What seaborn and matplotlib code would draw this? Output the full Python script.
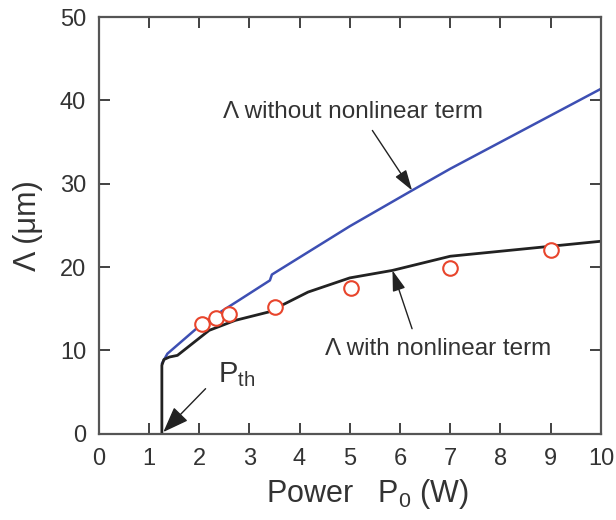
import matplotlib
matplotlib.use("Agg")
import matplotlib.pyplot as plt
import seaborn as sns
import pandas as pd

# Data
black_P = [1.26, 1.26, 1.30, 1.41, 1.57, 2.2, 2.72, 3.38, 4.17, 5.0, 5.85, 7.0, 8.0, 9.0, 10.0]
black_L = [0.0, 8.2, 8.9, 9.2, 9.4, 12.4, 13.6, 14.6, 17.0, 18.7, 19.6, 21.3, 21.9, 22.5, 23.1]
blue_P = [1.26, 1.37, 2.06, 2.79, 3.41, 3.45, 5.0, 6.24, 7.0, 10.0]
blue_L = [8.4, 9.6, 13.2, 16.0, 18.4, 19.1, 24.9, 29.2, 31.8, 41.4]
exp_P = [2.05, 2.33, 2.6, 3.52, 5.02, 7.0, 9.0]
exp_L = [13.2, 13.9, 14.4, 15.2, 17.5, 19.9, 22.0]
x_ticks = [0, 1, 2, 3, 4, 5, 6, 7, 8, 9, 10]
y_ticks = [0, 10, 20, 30, 40, 50]

sns.set_theme(style="ticks")
plt.rcParams['font.family'] = ['Liberation Sans', 'DejaVu Sans']
plt.rcParams['mathtext.fontset'] = 'custom'
plt.rcParams['mathtext.rm'] = 'Liberation Sans'
plt.rcParams['mathtext.it'] = 'Liberation Sans:italic'

fig = plt.figure(figsize=(6.16, 5.2), dpi=100)
ax = fig.add_axes([0.160, 0.166, 0.8156, 0.801])

df_black = pd.DataFrame({"P": black_P, "L": black_L})
df_blue = pd.DataFrame({"P": blue_P, "L": blue_L})
df_exp = pd.DataFrame({"P": exp_P, "L": exp_L})

sns.lineplot(data=df_blue, x="P", y="L", sort=False, estimator=None, color="#3d4fb3", lw=1.8, ax=ax)
sns.lineplot(data=df_black, x="P", y="L", sort=False, estimator=None, color="#222222", lw=2.0, ax=ax)
sns.scatterplot(data=df_exp, x="P", y="L", s=110, facecolors="white", edgecolor="#e8452c",
                linewidth=1.5, ax=ax, zorder=5)

ax.set_xlim(0, 10)
ax.set_ylim(0, 50)
ax.set_xticks(x_ticks)
ax.set_yticks(y_ticks)
ax.tick_params(direction="in", length=8, width=1.3, top=True, right=True,
               labelsize=17, colors="#333333")
ax.tick_params(axis="x", labeltop=False, pad=10)
ax.tick_params(axis="y", pad=9)
for s in ax.spines.values():
    s.set_linewidth(1.6)
    s.set_color("#555555")

ax.set_xlabel("Power   P$_0$ (W)", fontsize=22, color="#333333", labelpad=6)
ax.xaxis.set_label_coords(0.535, -0.105)
ax.set_ylabel("Λ (μm)", fontsize=22, color="#333333", labelpad=12)

arrow_kw = dict(arrowstyle="-|>,head_length=0.7,head_width=0.22", color="#222222", lw=1.0,
                mutation_scale=18, shrinkA=0, shrinkB=0)

ax.text(5.07, 37.9, "Λ without nonlinear term", fontsize=17.5, color="#333333",
        ha="center", va="baseline")
ax.annotate("", xy=(6.24, 29.2), xytext=(5.45, 36.4), arrowprops=arrow_kw)

ax.text(6.75, 9.4, "Λ with nonlinear term", fontsize=17.5, color="#333333",
        ha="center", va="baseline")
ax.annotate("", xy=(5.85, 19.6), xytext=(6.24, 12.6), arrowprops=arrow_kw)

ax.text(2.38, 6.2, "P$_{\\mathrm{th}}$", fontsize=21, color="#333333",
        ha="left", va="baseline")
ax.annotate("", xy=(1.29, 0.2), xytext=(2.13, 5.4),
            arrowprops=dict(arrowstyle="-|>,head_length=0.8,head_width=0.3", color="#222222",
                            lw=1.0, mutation_scale=20, shrinkA=0, shrinkB=0))

fig.savefig("out.png", dpi=100)
